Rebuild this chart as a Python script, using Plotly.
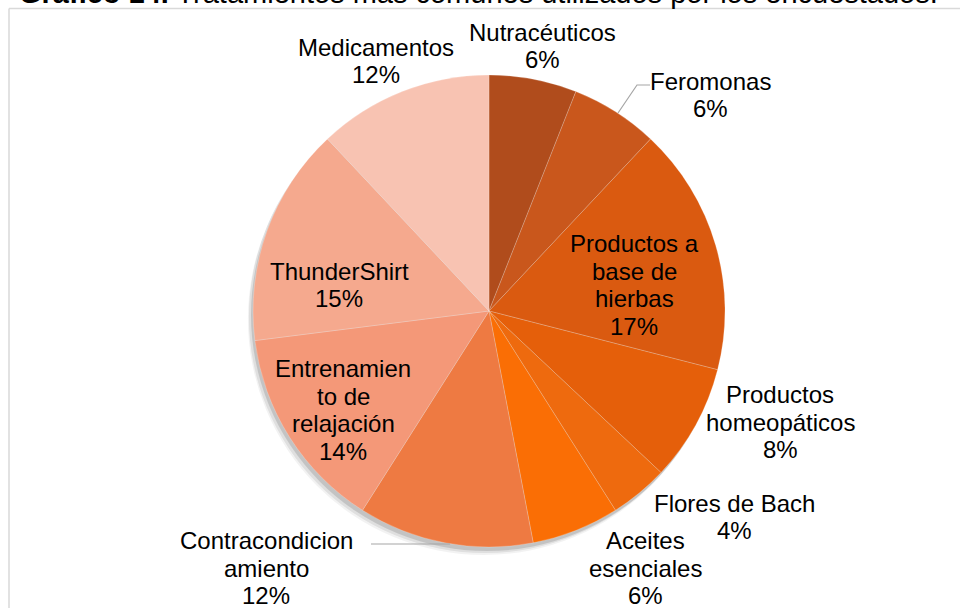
import plotly.graph_objects as go

# data
categorias = ["Nutracéuticos", "Feromonas", "Productos a base de hierbas",
              "Productos homeopáticos", "Flores de Bach", "Aceites esenciales",
              "Contracondicionamiento", "Entrenamiento de relajación",
              "ThunderShirt", "Medicamentos"]
etiquetas = ["Nutracéuticos", "Feromonas", "Productos a<br>base de<br>hierbas",
             "Productos<br>homeopáticos", "Flores de Bach", "Aceites<br>esenciales",
             "Contracondicion<br>amiento", "Entrenamien<br>to de<br>relajación",
             "ThunderShirt", "Medicamentos"]
valores = [6, 6, 17, 8, 4, 6, 12, 14, 15, 12]

colores = ["#B04C1C", "#C9571C", "#DA5A10", "#E55F0A", "#EE6A0E",
           "#FA6E05", "#EE7A42", "#F49878", "#F5A98E", "#F8C3B2"]

# label centres in pixels (manually placed as in the original)
pos_etiquetas = [(542, 46), (710, 95), (634, 285), (780, 422), (734, 517),
                 (645, 568), (266, 568), (343, 410), (339, 285), (376, 61)]

W, H = 960, 608
cx, cy, r = 489, 311, 236
interlinea = 27.5


def px(x):
    return x / W


def py(y):
    return 1 - y / H


fig = go.Figure()

# soft drop shadow
for dx, dy, a in [(-5, 8, 0.05), (-4, 6, 0.08), (-2, 4, 0.12)]:
    fig.add_trace(go.Pie(
        values=[1], marker=dict(colors=[f"rgba(0,0,0,{a})"]),
        textinfo="none", hoverinfo="skip", showlegend=False, sort=False,
        domain=dict(x=[px(cx - r + dx), px(cx + r + dx)],
                    y=[py(cy + r + dy), py(cy - r + dy)])))

fig.add_trace(go.Pie(
    labels=categorias, values=valores, sort=False, direction="clockwise",
    rotation=0, textinfo="none", showlegend=False,
    marker=dict(colors=colores, line=dict(color="rgba(255,255,255,0.35)", width=0.6)),
    domain=dict(x=[px(cx - r), px(cx + r)], y=[py(cy + r), py(cy - r)])))

total = sum(valores)
anots = []
for etq, v, (x, y) in zip(etiquetas, valores, pos_etiquetas):
    lineas = etq.split("<br>") + [f"{round(v / total * 100)}%"]
    n = len(lineas)
    for i, linea in enumerate(lineas):
        anots.append(dict(
            x=px(x), y=py(y + (i - (n - 1) / 2) * interlinea),
            xref="paper", yref="paper", showarrow=False,
            xanchor="center", yanchor="middle", text=linea,
            font=dict(family="Liberation Sans, Arial", size=24, color="#000000")))

# title, cut at the top like the original screenshot
anots.append(dict(
    x=px(17), y=py(10.5), xref="paper", yref="paper", xanchor="left",
    yanchor="bottom", showarrow=False,
    text="<b>Gráfico 14.</b> Tratamientos más comunes utilizados por los encuestados.",
    font=dict(family="Liberation Sans, Arial", size=29, color="#000000")))

shapes = [
    # chart frame
    dict(type="line", xref="paper", yref="paper", x0=px(9), x1=px(9),
         y0=py(8.5), y1=-0.05, line=dict(color="#D9D9D9", width=1.5)),
    dict(type="line", xref="paper", yref="paper", x0=px(9), x1=1.05,
         y0=py(8.5), y1=py(8.5), line=dict(color="#D9D9D9", width=1.5)),
    # leader lines
    dict(type="path", xref="paper", yref="paper",
         path=f"M {px(650)} {py(85)} L {px(637)} {py(85)} L {px(618)} {py(113)}",
         line=dict(color="#A6A6A6", width=1.2)),
    dict(type="line", xref="paper", yref="paper", x0=px(371), x1=px(450),
         y0=py(544), y1=py(544), line=dict(color="#A6A6A6", width=1.2)),
]

fig.update_layout(
    width=W, height=H, margin=dict(l=0, r=0, t=0, b=0),
    paper_bgcolor="white", plot_bgcolor="white",
    annotations=anots, shapes=shapes)

fig.write_html("out.html", config={"displayModeBar": False},
               post_script="document.body.style.margin='0';")
